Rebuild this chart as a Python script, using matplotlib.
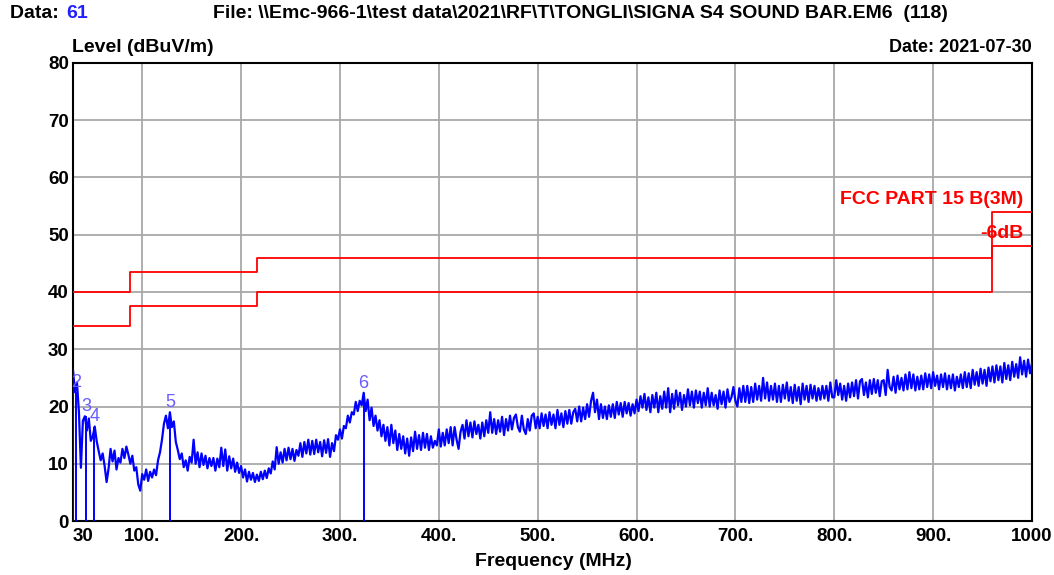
import numpy as np
import matplotlib
matplotlib.use("Agg")
import matplotlib.pyplot as plt

plt.rcParams['font.family'] = ['Liberation Sans', 'DejaVu Sans']
plt.rcParams['font.weight'] = 'bold'

# ---------------- data ----------------
freq_start, freq_stop, freq_step = 30, 1000, 2
level = [
    26.4, 22.5, 24.2, 19.0, 9.3, 17.5, 18.3, 15.8, 17.9, 14.0,
    14.8, 16.5, 13.9, 12.2, 10.6, 11.8, 9.6, 6.8, 9.2, 12.6,
    10.4, 12.3, 9.0, 11.0, 10.2, 12.6, 11.0, 13.0, 11.6, 10.0,
    11.4, 8.8, 9.4, 6.4, 5.3, 8.2, 7.2, 9.0, 7.0, 8.6,
    7.6, 9.0, 8.0, 10.6, 12.0, 14.2, 17.0, 18.4, 16.2, 19.0,
    16.4, 17.4, 13.8, 12.4, 10.8, 11.8, 9.4, 10.6, 8.8, 11.2,
    10.2, 14.2, 10.0, 12.0, 9.4, 11.8, 9.8, 11.4, 9.2, 11.0,
    9.6, 11.0, 8.8, 10.9, 9.4, 12.8, 9.6, 12.5, 8.8, 11.3,
    9.2, 10.9, 8.6, 10.2, 8.4, 9.6, 7.6, 9.0, 6.9, 8.6,
    7.2, 8.4, 6.8, 8.1, 7.0, 8.6, 7.3, 8.8, 7.5, 9.2,
    8.3, 10.4, 9.0, 12.9, 10.0, 12.0, 10.2, 12.6, 10.6, 12.8,
    10.8, 12.6, 10.5, 12.4, 11.4, 13.6, 11.2, 13.8, 11.8, 14.2,
    11.6, 14.0, 11.7, 14.2, 12.0, 13.8, 11.3, 14.1, 11.9, 14.3,
    11.2, 13.6, 12.2, 15.0, 14.2, 16.0, 14.4, 16.6, 16.2, 18.4,
    17.2, 19.0, 18.6, 20.8, 19.2, 21.0, 20.2, 22.4, 19.2, 21.2,
    17.6, 19.8, 16.6, 18.4, 15.8, 17.6, 14.8, 16.8, 14.0, 16.4,
    13.2, 16.8, 13.6, 15.8, 12.4, 15.2, 12.6, 14.8, 11.8, 14.4,
    11.4, 14.6, 12.2, 15.6, 12.6, 15.0, 12.4, 15.4, 12.8, 15.2,
    12.4, 14.8, 12.8, 14.0, 13.2, 16.0, 13.0, 15.4, 13.2, 16.0,
    13.6, 16.4, 13.2, 16.4, 14.2, 12.6, 15.6, 16.8, 14.4, 17.6,
    14.8, 17.2, 14.6, 17.4, 15.2, 16.8, 14.4, 17.2, 14.8, 17.6,
    15.4, 19.0, 15.4, 17.8, 15.2, 17.6, 15.6, 18.2, 15.0, 17.8,
    15.8, 18.4, 16.0, 18.0, 18.6, 16.4, 15.6, 18.4, 16.0, 15.2,
    17.8, 15.8, 18.4, 18.8, 16.2, 18.2, 16.2, 18.8, 16.6, 18.6,
    16.2, 19.0, 16.8, 18.6, 16.2, 19.4, 16.8, 18.8, 16.4, 19.2,
    17.0, 19.4, 17.0, 19.0, 19.6, 17.4, 20.0, 17.4, 19.8, 17.8,
    20.4, 18.2, 21.0, 22.4, 19.0, 21.2, 17.8, 20.4, 18.0, 20.0,
    17.8, 20.2, 18.2, 20.4, 18.0, 20.8, 18.6, 20.6, 18.2, 20.8,
    18.8, 20.6, 18.4, 20.4, 18.8, 21.2, 19.2, 21.8, 19.8, 22.2,
    19.4, 21.6, 19.0, 22.0, 19.8, 22.4, 19.0, 21.8, 19.6, 22.6,
    19.8, 23.2, 19.0, 22.2, 19.6, 22.8, 20.2, 22.4, 19.4, 22.0,
    20.0, 23.0, 20.2, 22.6, 19.8, 22.8, 20.6, 22.6, 19.8, 22.4,
    20.2, 23.2, 20.0, 22.4, 20.2, 22.0, 19.6, 22.8, 20.4, 22.6,
    19.8, 23.0, 20.8, 21.6, 23.4, 21.0, 20.0, 23.2, 20.8, 23.6,
    20.8, 23.6, 20.6, 23.4, 20.8, 24.0, 21.2, 23.6, 21.0, 25.0,
    21.4, 24.2, 21.0, 23.6, 21.2, 24.0, 20.8, 23.6, 20.8, 23.8,
    21.4, 24.2, 21.0, 23.4, 20.6, 23.8, 21.0, 23.4, 20.4, 24.0,
    21.2, 23.6, 20.8, 23.8, 21.4, 23.6, 21.0, 23.2, 21.2, 23.6,
    21.4, 23.6, 21.0, 24.2, 21.6, 21.6, 24.6, 22.0, 24.0, 21.2,
    23.6, 21.0, 24.0, 21.6, 24.2, 21.8, 24.6, 21.4, 24.4, 24.8,
    22.0, 24.2, 21.6, 24.6, 22.2, 24.8, 22.4, 24.6, 21.8, 24.4,
    24.6, 22.0, 26.4, 23.4, 22.8, 25.2, 22.4, 25.4, 23.0, 25.0,
    22.8, 25.6, 23.0, 26.0, 23.2, 25.6, 22.8, 25.2, 23.0, 25.4,
    23.0, 25.8, 23.4, 25.6, 23.2, 26.0, 23.6, 25.4, 23.0, 25.6,
    23.4, 25.8, 23.0, 25.4, 23.2, 25.6, 22.8, 25.2, 23.4, 25.6,
    23.2, 26.0, 23.4, 25.8, 23.2, 26.4, 23.8, 26.0, 23.6, 26.6,
    24.0, 26.4, 23.6, 26.8, 24.4, 27.0, 24.2, 27.2, 24.6, 27.0,
    24.2, 27.6, 24.8, 27.2, 24.6, 27.8, 25.2, 27.4, 25.0, 28.6,
    25.6, 28.0, 25.2, 28.2, 25.8, 27.6,
]
freq = np.arange(freq_start, freq_stop + 1, freq_step)

# limit lines (FCC Part 15 B, 3 m) and -6 dB margin
limit_freq = [30, 88, 88, 216, 216, 960, 960, 1000]
limit_level = [40, 40, 43.5, 43.5, 46, 46, 54, 54]
margin_level = [34, 34, 37.5, 37.5, 40, 40, 48, 48]

# peak markers (label of marker 1 is hidden under the trace in the reference)
marker_ids = ['1', '2', '3', '4', '5', '6']
marker_freq = [30.0, 33.0, 43.5, 51.5, 128.0, 324.0]
marker_level = [26.4, 22.5, 18.3, 16.5, 19.0, 22.4]

xticks = [30, 100, 200, 300, 400, 500, 600, 700, 800, 900, 1000]
xtick_labels = ['30', '100.', '200.', '300.', '400.', '500.', '600.', '700.', '800.', '900.', '1000']
yticks = [0, 10, 20, 30, 40, 50, 60, 70, 80]

# ---------------- figure ----------------
W, H = 1054, 575
fig = plt.figure(figsize=(W / 100, H / 100), dpi=100)
ax = fig.add_axes([73 / W, 1 - 521 / H, (1032 - 73) / W, (521 - 63) / H])
ax.set_xlim(30, 1000)
ax.set_ylim(0, 80)

FS = 14
ax.set_xticks(xticks)
ax.set_xticklabels(xtick_labels)
ax.set_yticks(yticks)
ax.tick_params(axis='both', length=0, labelsize=13.5)
ax.tick_params(axis='y', pad=3)
ax.tick_params(axis='x', pad=5)
for lab in ax.get_xticklabels() + ax.get_yticklabels():
    lab.set_fontweight('bold')
ax.get_xticklabels()[0].set_horizontalalignment('left')

ax.grid(True, color='#a8a8a8', linewidth=1.3)
ax.set_axisbelow(True)
for s in ax.spines.values():
    s.set_color('black')
    s.set_linewidth(1.5)

# limit lines
ax.plot(limit_freq, limit_level, color='#ff0000', linewidth=1.3, zorder=3)
ax.plot(limit_freq, margin_level, color='#ff0000', linewidth=1.3, zorder=3)

# trace
ax.plot(freq, level, color='#0000ff', linewidth=1.6, zorder=4)

# markers
ax.vlines(marker_freq, 0, marker_level, color='#0000ff', linewidth=1.4, zorder=4)
for mid, mf, ml in zip(marker_ids, marker_freq, marker_level):
    if mid == '1':
        continue
    ax.text(mf, ml + 0.2, mid, color='#6a5cff', fontsize=13, fontweight='normal',
            ha='center', va='bottom', zorder=5)

ax.text(991, 56.2, 'FCC PART 15 B(3M)', color='#ff0000', fontsize=FS,
        fontweight='bold', ha='right', va='center', zorder=6)
ax.text(991, 50.2, '-6dB', color='#ff0000', fontsize=FS,
        fontweight='bold', ha='right', va='center', zorder=6)

# header texts
fig.text(10 / W, 1 - 14 / H, 'Data: ', fontsize=FS, fontweight='bold', va='center', ha='left')
fig.text(66 / W, 1 - 14 / H, '61', fontsize=FS, fontweight='bold', va='center', ha='left', color='#2020ff')
fig.text(213 / W, 1 - 14 / H, 'File: \\\\Emc-966-1\\test data\\2021\\RF\\T\\TONGLI\\SIGNA S4 SOUND BAR.EM6  (118)',
         fontsize=FS, fontweight='bold', va='center', ha='left')
fig.text(72 / W, 1 - 47 / H, 'Level (dBuV/m)', fontsize=FS, fontweight='bold', va='center', ha='left')
fig.text(1032 / W, 1 - 47 / H, 'Date: 2021-07-30', fontsize=13, fontweight='bold', va='center', ha='right')
fig.text(553 / W, 1 - 562 / H, 'Frequency (MHz)', fontsize=FS, fontweight='bold', va='center', ha='center')

fig.savefig('out.png', dpi=100)
